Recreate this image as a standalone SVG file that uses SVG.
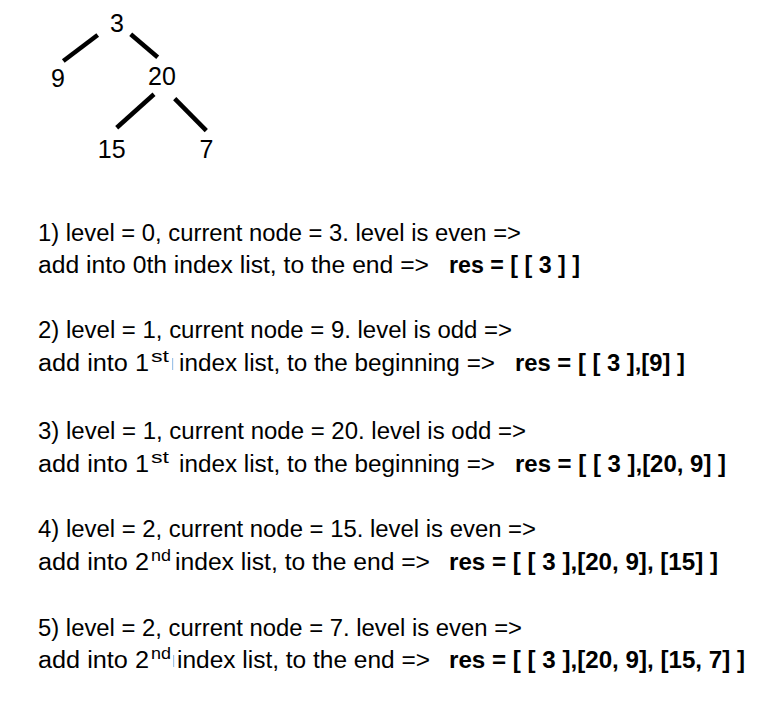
<svg xmlns="http://www.w3.org/2000/svg" width="765" height="701" viewBox="0 0 765 701">
  <style>
    .node { font-family: "Liberation Sans", Arial, sans-serif; font-size: 25px; fill: #000; text-anchor: middle; }
    .edge { stroke: #000; stroke-width: 4.5; stroke-linecap: butt; fill: none; }
    .t { font-family: "Liberation Sans", Arial, sans-serif; font-size: 23.5px; fill: #000; }
    .b { font-family: "Liberation Sans", Arial, sans-serif; font-size: 23.5px; font-weight: bold; fill: #000; }
    .sup { font-family: "Liberation Sans", Arial, sans-serif; font-size: 17px; fill: #000; }
    .cursor { fill: #9fc4e8; }
  </style>
  <rect width="765" height="701" fill="#fff"/>

  <g id="connectors">
    <line class="edge" x1="97.7" y1="35" x2="63.3" y2="61"/>
    <line class="edge" x1="130.7" y1="34.3" x2="157.7" y2="57.3"/>
    <line class="edge" x1="154" y1="94.3" x2="116.7" y2="127.7"/>
    <line class="edge" x1="174.7" y1="98.7" x2="206.3" y2="130.7"/>
  </g>

  <g id="node-3"><text class="node" x="117" y="31.5">3</text></g>
  <g id="node-9"><text class="node" x="58" y="87">9</text></g>
  <g id="node-20"><text class="node" x="162" y="85">20</text></g>
  <g id="node-15"><text class="node" x="111.7" y="158">15</text></g>
  <g id="node-7"><text class="node" x="206.5" y="158">7</text></g>

  <g id="step-1">
    <text class="t" x="38" y="241" textLength="483" lengthAdjust="spacingAndGlyphs">1) level = 0, current node = 3. level is even =&gt;</text>
    <text class="t" x="38" y="273" textLength="391" lengthAdjust="spacingAndGlyphs">add into 0th index list, to the end =&gt;</text>
    <text class="b" x="449" y="273" textLength="131" lengthAdjust="spacingAndGlyphs">res = [ [ 3 ] ]</text>
  </g>

  <g id="step-2">
    <text class="t" x="38" y="338" textLength="474" lengthAdjust="spacingAndGlyphs">2) level = 1, current node = 9. level is odd =&gt;</text>
    <text class="t" x="38" y="371" textLength="111" lengthAdjust="spacingAndGlyphs">add into 1</text>
    <text class="sup" x="151" y="362" textLength="18" lengthAdjust="spacingAndGlyphs">st</text>
    <rect class="cursor" x="172" y="358" width="1.2" height="12"/>
    <text class="t" x="179" y="371" textLength="316" lengthAdjust="spacingAndGlyphs">index list, to the beginning =&gt;</text>
    <text class="b" x="515" y="371" textLength="170" lengthAdjust="spacingAndGlyphs">res = [ [ 3 ],[9] ]</text>
  </g>

  <g id="step-3">
    <text class="t" x="38" y="439" textLength="488" lengthAdjust="spacingAndGlyphs">3) level = 1, current node = 20. level is odd =&gt;</text>
    <text class="t" x="38" y="472" textLength="111" lengthAdjust="spacingAndGlyphs">add into 1</text>
    <text class="sup" x="151" y="463" textLength="18" lengthAdjust="spacingAndGlyphs">st</text>
    <text class="t" x="179" y="472" textLength="316" lengthAdjust="spacingAndGlyphs">index list, to the beginning =&gt;</text>
    <text class="b" x="515" y="472" textLength="211" lengthAdjust="spacingAndGlyphs">res = [ [ 3 ],[20, 9] ]</text>
  </g>

  <g id="step-4">
    <text class="t" x="38" y="537" textLength="498" lengthAdjust="spacingAndGlyphs">4) level = 2, current node = 15. level is even =&gt;</text>
    <text class="t" x="38" y="570" textLength="111" lengthAdjust="spacingAndGlyphs">add into 2</text>
    <text class="sup" x="151" y="561" textLength="20" lengthAdjust="spacingAndGlyphs">nd</text>
    <text class="t" x="175" y="570" textLength="255" lengthAdjust="spacingAndGlyphs">index list, to the end =&gt;</text>
    <text class="b" x="449" y="570" textLength="269" lengthAdjust="spacingAndGlyphs">res = [ [ 3 ],[20, 9], [15] ]</text>
  </g>

  <g id="step-5">
    <text class="t" x="38" y="636" textLength="484" lengthAdjust="spacingAndGlyphs">5) level = 2, current node = 7. level is even =&gt;</text>
    <text class="t" x="38" y="668" textLength="111" lengthAdjust="spacingAndGlyphs">add into 2</text>
    <text class="sup" x="151" y="659" textLength="20" lengthAdjust="spacingAndGlyphs">nd</text>
    <rect class="cursor" x="173" y="655" width="1.2" height="12"/>
    <text class="t" x="177" y="668" textLength="253" lengthAdjust="spacingAndGlyphs">index list, to the end =&gt;</text>
    <text class="b" x="449" y="668" textLength="296" lengthAdjust="spacingAndGlyphs">res = [ [ 3 ],[20, 9], [15, 7] ]</text>
  </g>
</svg>
